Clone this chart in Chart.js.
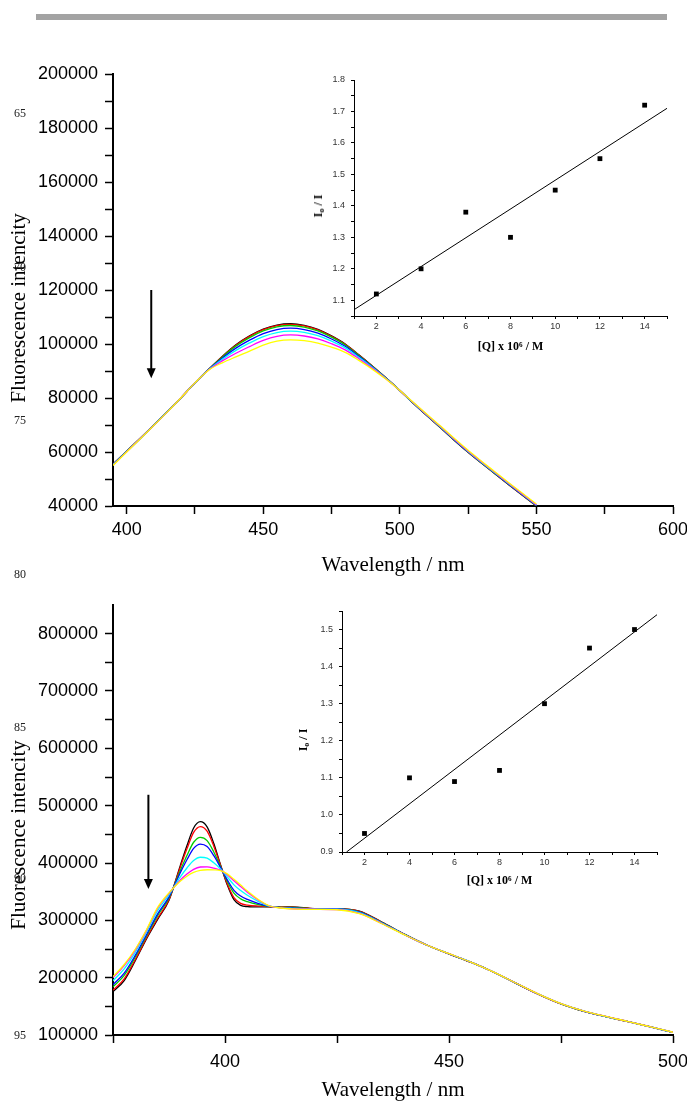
<!DOCTYPE html>
<html>
<head>
<meta charset="utf-8">
<title>Fluorescence quenching</title>
<script src="https://cdn.jsdelivr.net/npm/chart.js@4.4.1/dist/chart.umd.min.js"></script>
<style>
  html, body { margin: 0; padding: 0; background: #fff; }
  body { width: 687px; height: 1104px; position: relative; overflow: hidden; }
  .rule { position: absolute; left: 36px; top: 14px; width: 631px; height: 6px; background: #a3a3a3; }
  canvas { position: absolute; }
  .ytitle { position: absolute; font: 21px "Liberation Serif", "Times New Roman", serif; color: #000;
            white-space: nowrap; transform: translate(-50%, -50%) rotate(-90deg); }
  .insettitle { position: absolute; font: bold 12px "Liberation Serif", "Times New Roman", serif; color: #000;
            white-space: nowrap; transform: translate(-50%, -50%) rotate(-90deg); line-height: 14px; }
  .insettitle sub { font-size: 8px; vertical-align: -2px; }
  .lineno { position: absolute; font: 12px "Liberation Serif", "Times New Roman", serif; color: #222;
            transform: translate(-50%, -50%); }
</style>
</head>
<body>
<div class="rule"></div>

<canvas id="topMain" style="left:0;top:40px" width="687" height="560"></canvas>
<canvas id="topInset" style="left:290px;top:60px" width="390" height="310"></canvas>
<canvas id="botMain" style="left:0;top:590px" width="687" height="514"></canvas>
<canvas id="botInset" style="left:280px;top:590px" width="400" height="300"></canvas>

<div class="ytitle" style="left:18px;top:308px">Fluorescence intencity</div>
<div class="ytitle" style="left:18px;top:835px">Fluorescence intencity</div>
<div class="insettitle" style="left:320px;top:206px">I<sub>o</sub> / I</div>
<div class="insettitle" style="left:305px;top:740px">I<sub>o</sub> / I</div>

<div class="lineno" style="left:20px;top:113px">65</div>
<div class="lineno" style="left:20px;top:267px">70</div>
<div class="lineno" style="left:20px;top:420px">75</div>
<div class="lineno" style="left:20px;top:574px">80</div>
<div class="lineno" style="left:20px;top:727px">85</div>
<div class="lineno" style="left:20px;top:878px">90</div>
<div class="lineno" style="left:20px;top:1035px">95</div>

<script>
// ---- top panel: spectra (nm, intensity) ----
const topWavelength = [395, 400, 405, 410, 415, 420, 425, 430, 435, 440, 445, 450, 455, 460, 465, 470,
  475, 480, 485, 490, 495, 500, 505, 510, 515, 520, 525, 530, 535, 540, 545, 550];
const topBlack = [55500, 60300, 65100, 70000, 75000, 80200, 85600, 90600, 95400, 99700, 103000, 105500, 107000, 107500, 106900, 105400,
  103000, 100000, 96000, 91800, 87400, 82800, 78000, 73400, 68900, 64300, 59900, 55800, 51800, 47800, 43900, 40000];
const topRed = [55480, 60290, 65090, 70000, 75000, 80200, 85600, 90590, 95320, 99550, 102810, 105300, 106800, 107300, 106710, 105230,
  102860, 99900, 95930, 91760, 87380, 82800, 78010, 73420, 68920, 64320, 59920, 55820, 51820, 47820, 43920, 40020];
const topGreen = [55450, 60270, 65080, 69990, 74990, 80200, 85600, 90570, 95140, 99210, 102380, 104850, 106350, 106850, 106280, 104850,
  102550, 99660, 95770, 91670, 87350, 82800, 78030, 73450, 68970, 64370, 59980, 55880, 51880, 47880, 43980, 40080];
const topBlue = [55370, 60220, 65050, 69970, 74980, 80200, 85600, 90520, 94740, 98460, 101430, 103850, 105350, 105850, 105330, 104000,
  101850, 99140, 95420, 91470, 87270, 82800, 78080, 73530, 69070, 64480, 60100, 56000, 52000, 48000, 44100, 40200];
const topCyan = [55280, 60160, 65020, 69950, 74970, 80200, 85600, 90460, 94300, 97640, 100390, 102750, 104250, 104750, 104290, 103060,
  101080, 98570, 95040, 91250, 87180, 82800, 78140, 73620, 69180, 64600, 60230, 56130, 52130, 48130, 44230, 40330];
const topMagenta = [55170, 60090, 64980, 69920, 74960, 80200, 85600, 90390, 93740, 96590, 99060, 101350, 102850, 103350, 102960, 101870,
  100100, 97840, 94550, 90970, 87070, 82800, 78210, 73730, 69320, 64760, 60400, 56300, 52300, 48300, 44400, 40500];
const topYellow = [55020, 60000, 64920, 69880, 74940, 80200, 85600, 90300, 93020, 95240, 97350, 99550, 101050, 101550, 101250, 100340,
  98840, 96910, 93920, 90610, 86920, 82800, 78300, 73880, 69500, 64960, 60610, 56510, 52510, 48510, 44610, 40710];

const topXTicks = [400, 425, 450, 475, 500, 525, 550, 575, 600];
const topXLabels = [400, 450, 500, 550, 600];
const topYTicks = [40000, 50000, 60000, 70000, 80000, 90000, 100000, 110000, 120000, 130000, 140000,
  150000, 160000, 170000, 180000, 190000, 200000];
const topYLabels = [40000, 60000, 80000, 100000, 120000, 140000, 160000, 180000, 200000];

// ---- top inset: Stern-Volmer ----
const topConc = [2, 4, 6, 8, 10, 12, 14];
const topRatio = [1.12, 1.20, 1.38, 1.30, 1.45, 1.55, 1.72];
const topFitX = [1, 15];
const topFitY = [1.07, 1.71];
const topInsetYTicks = [1.05, 1.1, 1.15, 1.2, 1.25, 1.3, 1.35, 1.4, 1.45, 1.5, 1.55, 1.6, 1.65, 1.7, 1.75, 1.8];

// ---- bottom panel: spectra ----
const botWavelength = [375, 377.5, 380, 382.5, 385, 387.5, 390, 391.5, 393, 394.5, 396, 397.5, 399, 400.5, 402, 403.5,
  405, 407.5, 410, 412.5, 415, 420, 425, 430, 435, 440, 445, 450, 455, 460, 465, 470, 475, 480, 485, 490, 495, 500];
const botBlack = [175600, 195000, 230000, 268000, 302000, 335000, 395000, 430000, 461000, 472000, 463000, 434000, 397000, 362000, 336000, 326000,
  324000, 323500, 323500, 323000, 323500, 320500, 320500, 316000, 297000, 276000, 257000, 241500, 226500, 209500, 190000, 171000, 154300, 141700, 132000, 123200, 114000, 104500];
const botRed = [178200, 197800, 232000, 269600, 304100, 336300, 392300, 424700, 453300, 463500, 455500, 429400, 396000, 363900, 339600, 329600,
  326700, 324800, 323700, 322900, 323200, 320400, 320300, 315500, 296700, 275900, 257000, 241500, 226500, 209500, 190000, 171000, 154300, 141700, 132000, 123200, 114000, 104500];
const botGreen = [184000, 204000, 236400, 273100, 308700, 339200, 386400, 413000, 436200, 444800, 439100, 419300, 393700, 368100, 347400, 337400,
  332600, 327500, 324000, 322500, 322400, 320200, 320000, 314800, 296200, 275800, 257000, 241500, 226600, 209500, 190100, 171100, 154400, 141800, 132100, 123300, 114000, 104600];
const botBlue = [187700, 207900, 239200, 275400, 311700, 341000, 382600, 405600, 425400, 432900, 428600, 412800, 392300, 370700, 352300, 342300,
  336400, 329300, 324200, 322300, 321900, 320000, 319800, 314200, 295800, 275600, 257000, 241600, 226600, 209500, 190100, 171100, 154500, 141800, 132100, 123300, 114100, 104600];
const botCyan = [194700, 215400, 244600, 279700, 317300, 344500, 375300, 391300, 404400, 410000, 408400, 400400, 389600, 375900, 361900, 351900,
  343700, 332600, 324600, 321900, 320900, 319700, 319400, 313300, 295200, 275400, 257000, 241700, 226700, 209600, 190200, 171200, 154600, 141900, 132200, 123400, 114100, 104700];
const botMagenta = [200000, 221000, 248600, 282900, 321500, 347100, 369900, 380700, 388900, 393000, 393400, 391200, 387500, 379700, 369000, 359000,
  349100, 335100, 324900, 321600, 320200, 319300, 318900, 312300, 294500, 275200, 257000, 241800, 226800, 209600, 190300, 171300, 154700, 142000, 132300, 123500, 114200, 104800];
const botYellow = [201800, 223000, 250000, 284000, 323000, 348000, 368000, 377000, 383500, 387000, 388200, 388000, 386800, 381000, 371500, 361500,
  351000, 336000, 325000, 321500, 320000, 319000, 318500, 311500, 294000, 275000, 257000, 241800, 226800, 209600, 190300, 171300, 154700, 142000, 132300, 123500, 114200, 104800];

const botXTicks = [375, 400, 425, 450, 475, 500];
const botXLabels = [400, 450, 500];
const botYTicks = [100000, 150000, 200000, 250000, 300000, 350000, 400000, 450000, 500000, 550000,
  600000, 650000, 700000, 750000, 800000];
const botYLabels = [100000, 200000, 300000, 400000, 500000, 600000, 700000, 800000];

// ---- bottom inset ----
const botConc = [2, 4, 6, 8, 10, 12, 14];
const botRatio = [0.95, 1.10, 1.09, 1.12, 1.30, 1.45, 1.50];
const botFitX = [1.2, 15];
const botFitY = [0.9, 1.54];
const botInsetYTicks = [0.9, 0.95, 1.0, 1.05, 1.1, 1.15, 1.2, 1.25, 1.3, 1.35, 1.4, 1.45, 1.5, 1.55];

const insetXTicks = [1, 2, 3, 4, 5, 6, 7, 8, 9, 10, 11, 12, 13, 14, 15];
const insetXLabels = [2, 4, 6, 8, 10, 12, 14];

const curveColors = ['#000000', '#ff0000', '#00cc00', '#0000ff', '#00ffff', '#ff00ff', '#ffff00'];

const SANS = '"Liberation Sans", Arial, sans-serif';
const SERIF = '"Liberation Serif", "Times New Roman", serif';

// arrow showing the quenching direction, placed in data units
const arrowPlugin = {
  id: 'arrow',
  afterDatasetsDraw(chart, args, opts) {
    if (!opts || opts.x == null) return;
    const { ctx, scales } = chart;
    const x = scales.x.getPixelForValue(opts.x);
    const y1 = scales.y.getPixelForValue(opts.from);
    const y2 = scales.y.getPixelForValue(opts.to);
    ctx.save();
    ctx.strokeStyle = '#000';
    ctx.fillStyle = '#000';
    ctx.lineWidth = 2;
    ctx.beginPath();
    ctx.moveTo(x, y1);
    ctx.lineTo(x, y2 - 8);
    ctx.stroke();
    ctx.beginPath();
    ctx.moveTo(x - 4.5, y2 - 10);
    ctx.lineTo(x + 4.5, y2 - 10);
    ctx.lineTo(x, y2);
    ctx.closePath();
    ctx.fill();
    ctx.restore();
  }
};

function toPoints(xs, ys) {
  return ys.map((v, i) => ({ x: xs[i], y: v }));
}

function spectraChart(id, cfg) {
  const datasets = cfg.series.map((vals, i) => ({
    data: toPoints(cfg.wavelength, vals),
    borderColor: curveColors[i],
    borderWidth: 1.3,
    pointRadius: 0,
    tension: 0.4,
    cubicInterpolationMode: 'monotone',
    order: cfg.series.length - i
  }));
  return new Chart(document.getElementById(id), {
    type: 'line',
    data: { datasets: datasets },
    plugins: [arrowPlugin],
    options: {
      responsive: false,
      animation: false,
      devicePixelRatio: 1,
      layout: { padding: cfg.padding },
      plugins: { legend: { display: false }, tooltip: { enabled: false }, arrow: cfg.arrow },
      scales: {
        x: {
          type: 'linear', min: cfg.xMin, max: cfg.xMax,
          afterBuildTicks: s => { s.ticks = cfg.xTicks.map(v => ({ value: v })); },
          afterFit: s => { s.height = cfg.xHeight; s.paddingLeft = 0; s.paddingRight = 0; },
          ticks: {
            autoSkip: false, maxRotation: 0, padding: cfg.xLabelPad, color: '#000',
            font: { family: SANS, size: 18 },
            callback: v => cfg.xLabels.includes(v) ? String(v) : ''
          },
          grid: { drawOnChartArea: false, tickLength: 8, tickWidth: 1.5, tickColor: '#000' },
          border: { color: '#000', width: 2 },
          title: {
            display: true, text: 'Wavelength / nm', color: '#000',
            font: { family: SERIF, size: 21 }, padding: { top: 0, bottom: cfg.xTitlePad }
          }
        },
        y: {
          type: 'linear', min: cfg.yMin, max: cfg.yMax,
          afterBuildTicks: s => { s.ticks = cfg.yTicks.map(v => ({ value: v })); },
          afterFit: s => { s.width = 113; s.paddingTop = 0; s.paddingBottom = 0; },
          ticks: {
            autoSkip: false, padding: 7, color: '#000',
            font: { family: SANS, size: 18 },
            callback: v => cfg.yLabels.includes(v) ? String(v) : ''
          },
          grid: { drawOnChartArea: false, tickLength: 8, tickWidth: 1.5, tickColor: '#000' },
          border: { color: '#000', width: 2 }
        }
      }
    }
  });
}

function insetChart(id, cfg) {
  return new Chart(document.getElementById(id), {
    type: 'scatter',
    data: {
      datasets: [
        {
          data: toPoints(cfg.conc, cfg.ratio),
          pointStyle: 'rect', pointRadius: 3.4, backgroundColor: '#000', borderColor: '#000', borderWidth: 0
        },
        {
          data: toPoints(cfg.fitX, cfg.fitY),
          showLine: true, borderColor: '#000', borderWidth: 1, pointRadius: 0
        }
      ]
    },
    options: {
      responsive: false,
      animation: false,
      devicePixelRatio: 1,
      layout: { padding: cfg.padding },
      plugins: { legend: { display: false }, tooltip: { enabled: false } },
      scales: {
        x: {
          type: 'linear', min: 1, max: 15,
          afterBuildTicks: s => { s.ticks = insetXTicks.map(v => ({ value: v })); },
          afterFit: s => { s.height = cfg.xHeight; s.paddingLeft = 0; s.paddingRight = 0; },
          ticks: {
            autoSkip: false, maxRotation: 0, padding: 2, color: '#333',
            font: { family: SANS, size: 9 },
            callback: v => insetXLabels.includes(v) ? String(v) : ''
          },
          grid: { drawOnChartArea: false, tickLength: 3, tickWidth: 1, tickColor: '#000' },
          border: { color: '#000', width: 1 },
          title: {
            display: true, text: '[Q] x 10\u2076 / M', color: '#000',
            font: { family: SERIF, size: 12, weight: 'bold' }, padding: { top: 0, bottom: cfg.xTitlePad }
          }
        },
        y: {
          type: 'linear', min: cfg.yMin, max: cfg.yMax,
          afterBuildTicks: s => { s.ticks = cfg.yTicks.map(v => ({ value: v })); },
          afterFit: s => { s.width = cfg.yWidth; s.paddingTop = 0; s.paddingBottom = 0; },
          ticks: {
            autoSkip: false, padding: 6, color: '#333',
            font: { family: SANS, size: 9 },
            callback: v => Math.abs(v * 10 - Math.round(v * 10)) < 1e-6 ? v.toFixed(1) : ''
          },
          grid: { drawOnChartArea: false, tickLength: 3, tickWidth: 1, tickColor: '#000' },
          border: { color: '#000', width: 1 }
        }
      }
    }
  });
}

spectraChart('topMain', {
  wavelength: topWavelength,
  series: [topBlack, topRed, topGreen, topBlue, topCyan, topMagenta, topYellow],
  xMin: 395, xMax: 600, yMin: 40000, yMax: 200000,
  xTicks: topXTicks, xLabels: topXLabels, yTicks: topYTicks, yLabels: topYLabels,
  padding: { left: 0, top: 34, right: 14, bottom: 0 },
  xHeight: 94, xLabelPad: 5, xTitlePad: 22,
  arrow: { x: 409, from: 120000, to: 87300 }
});

insetChart('topInset', {
  conc: topConc, ratio: topRatio, fitX: topFitX, fitY: topFitY,
  yMin: 1.05, yMax: 1.8, yTicks: topInsetYTicks,
  padding: { left: 0, top: 20, right: 13, bottom: 0 },
  yWidth: 64, xHeight: 54, xTitlePad: 16
});

spectraChart('botMain', {
  wavelength: botWavelength,
  series: [botBlack, botRed, botGreen, botBlue, botCyan, botMagenta, botYellow],
  xMin: 375, xMax: 500, yMin: 100000, yMax: 850000,
  xTicks: botXTicks, xLabels: botXLabels, yTicks: botYTicks, yLabels: botYLabels,
  padding: { left: 0, top: 15, right: 14, bottom: 0 },
  xHeight: 69, xLabelPad: 8, xTitlePad: 1,
  arrow: { x: 382.9, from: 519000, to: 354500 }
});

insetChart('botInset', {
  conc: botConc, ratio: botRatio, fitX: botFitX, fitY: botFitY,
  yMin: 0.9, yMax: 1.55, yTicks: botInsetYTicks,
  padding: { left: 0, top: 21, right: 23, bottom: 0 },
  yWidth: 62, xHeight: 38, xTitlePad: 2
});
</script>
</body>
</html>
